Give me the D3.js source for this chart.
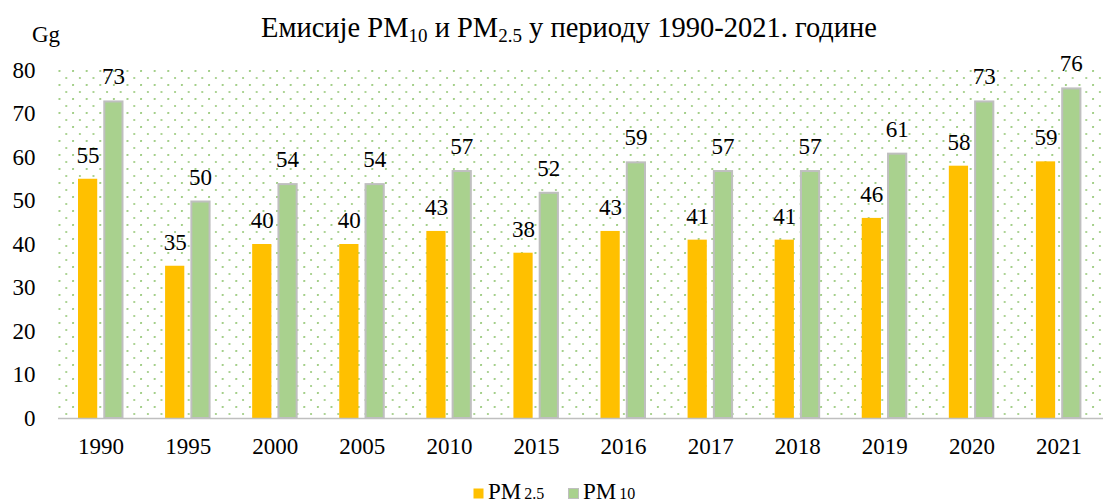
<!DOCTYPE html>
<html>
<head>
<meta charset="utf-8">
<script src="https://cdn.jsdelivr.net/npm/d3@7"></script>
<style>
  body { margin: 0; background: #fff; }
  text { font-family: "Liberation Serif", "Times New Roman", serif; fill: #000; }
</style>
</head>
<body>
<div id="chart"></div>
<script>
var years = ["1990", "1995", "2000", "2005", "2010", "2015", "2016", "2017", "2018", "2019", "2020", "2021"];
var pm25 = [55, 35, 40, 40, 43, 38, 43, 41, 41, 46, 58, 59];
var pm10 = [73, 50, 54, 54, 57, 52, 59, 57, 57, 61, 73, 76];
var seriesNames = ["pm25", "pm10"];
var yTicks = [0, 10, 20, 30, 40, 50, 60, 70, 80];

var width = 1110, height = 503;
var plotLeft = 57.5, plotRight = 1102.5, plotTop = 70, plotBottom = 418;

var svg = d3.select("#chart").append("svg")
    .attr("width", width)
    .attr("height", height);

// dotted background of the plot area
var defs = svg.append("defs");
var pat = defs.append("pattern")
    .attr("id", "dots")
    .attr("patternUnits", "userSpaceOnUse")
    .attr("x", plotLeft + 1).attr("y", plotTop)
    .attr("width", 13.6).attr("height", 14);
pat.append("circle").attr("cx", 1).attr("cy", 1).attr("r", 1.05).attr("fill", "#98c97a");
pat.append("circle").attr("cx", 7.8).attr("cy", 8).attr("r", 1.05).attr("fill", "#98c97a");

svg.append("rect")
    .attr("x", plotLeft).attr("y", plotTop)
    .attr("width", plotRight - plotLeft).attr("height", plotBottom - plotTop)
    .attr("fill", "url(#dots)");

var x = d3.scaleBand().domain(years).range([plotLeft, plotRight]);
var xInner = d3.scaleBand().domain(seriesNames).range([20.5, 66]).paddingInner(0.2);
var y = d3.scaleLinear().domain([0, 80]).range([plotBottom, plotTop]);

var rows = years.map(function(d, i) {
    return { year: d, pm25: pm25[i], pm10: pm10[i] };
});

var groups = svg.selectAll("g.year")
    .data(rows)
  .enter()
    .append("g")
    .attr("class", "year")
    .attr("transform", function(d) { return "translate(" + x(d.year) + ",0)"; });

groups.append("rect")
    .attr("x", xInner("pm25"))
    .attr("y", function(d) { return y(d.pm25); })
    .attr("width", xInner.bandwidth() - 1)
    .attr("height", function(d) { return y(0) - y(d.pm25); })
    .attr("fill", "#ffc000");

groups.append("rect")
    .attr("x", xInner("pm10") + 1)
    .attr("y", function(d) { return y(d.pm10) + 1; })
    .attr("width", xInner.bandwidth() - 2)
    .attr("height", function(d) { return y(0) - y(d.pm10) - 1; })
    .attr("fill", "#a9d18e")
    .attr("stroke", "#bfbfbf")
    .attr("stroke-width", 2);

groups.append("text")
    .attr("x", xInner("pm25") + xInner.bandwidth() / 2)
    .attr("y", function(d) { return y(d.pm25) - 16; })
    .attr("text-anchor", "middle")
    .style("font-size", "23px")
    .text(function(d) { return d.pm25; });

groups.append("text")
    .attr("x", xInner("pm10") + xInner.bandwidth() / 2)
    .attr("y", function(d) { return y(d.pm10) - 16; })
    .attr("text-anchor", "middle")
    .style("font-size", "23px")
    .text(function(d) { return d.pm10; });

// bottom axis
var xAxis = svg.append("g")
    .attr("transform", "translate(0," + plotBottom + ")")
    .call(d3.axisBottom(x).tickSize(0).tickPadding(20));
xAxis.select(".domain").attr("stroke", "#bfbfbf").attr("stroke-width", 1.5);
xAxis.selectAll("text")
    .style("font-size", "23px")
    .attr("fill", "#000");

// left axis labels
var yAxis = svg.append("g")
    .attr("transform", "translate(" + plotLeft + ",0)")
    .call(d3.axisLeft(y).tickValues(yTicks).tickSize(0).tickPadding(22));
yAxis.select(".domain").remove();
yAxis.selectAll("text")
    .style("font-size", "23px")
    .attr("fill", "#000");

svg.append("text")
    .attr("x", 32).attr("y", 42)
    .style("font-size", "23px")
    .text("Gg");

// title with subscripts
var title = svg.append("text")
    .attr("x", 569).attr("y", 37)
    .attr("text-anchor", "middle")
    .style("font-size", "28.5px");
title.append("tspan").text("Емисије PM");
title.append("tspan").attr("dy", 5).style("font-size", "19px").text("10");
title.append("tspan").attr("dy", -5).text(" и PM");
title.append("tspan").attr("dy", 5).style("font-size", "19px").text("2.5");
title.append("tspan").attr("dy", -5).text(" у периоду 1990-2021. године");

// legend
var legendItems = [
    { main: "PM", sub: "2.5", color: "#ffc000", stroke: "none", x: 473 },
    { main: "PM", sub: "10", color: "#a9d18e", stroke: "#bfbfbf", x: 568 }
];
var legend = svg.selectAll("g.legend")
    .data(legendItems)
  .enter()
    .append("g")
    .attr("class", "legend")
    .attr("transform", function(d) { return "translate(" + d.x + ",0)"; });
legend.append("rect")
    .attr("x", 0.5).attr("y", 488.5)
    .attr("width", 10).attr("height", 10)
    .attr("fill", function(d) { return d.color; })
    .attr("stroke", function(d) { return d.stroke; });
var lt = legend.append("text")
    .attr("x", 15).attr("y", 499)
    .style("font-size", "23px");
lt.append("tspan").text(function(d) { return d.main; });
lt.append("tspan").attr("dx", 3).style("font-size", "16px").text(function(d) { return d.sub; });
</script>
</body>
</html>
